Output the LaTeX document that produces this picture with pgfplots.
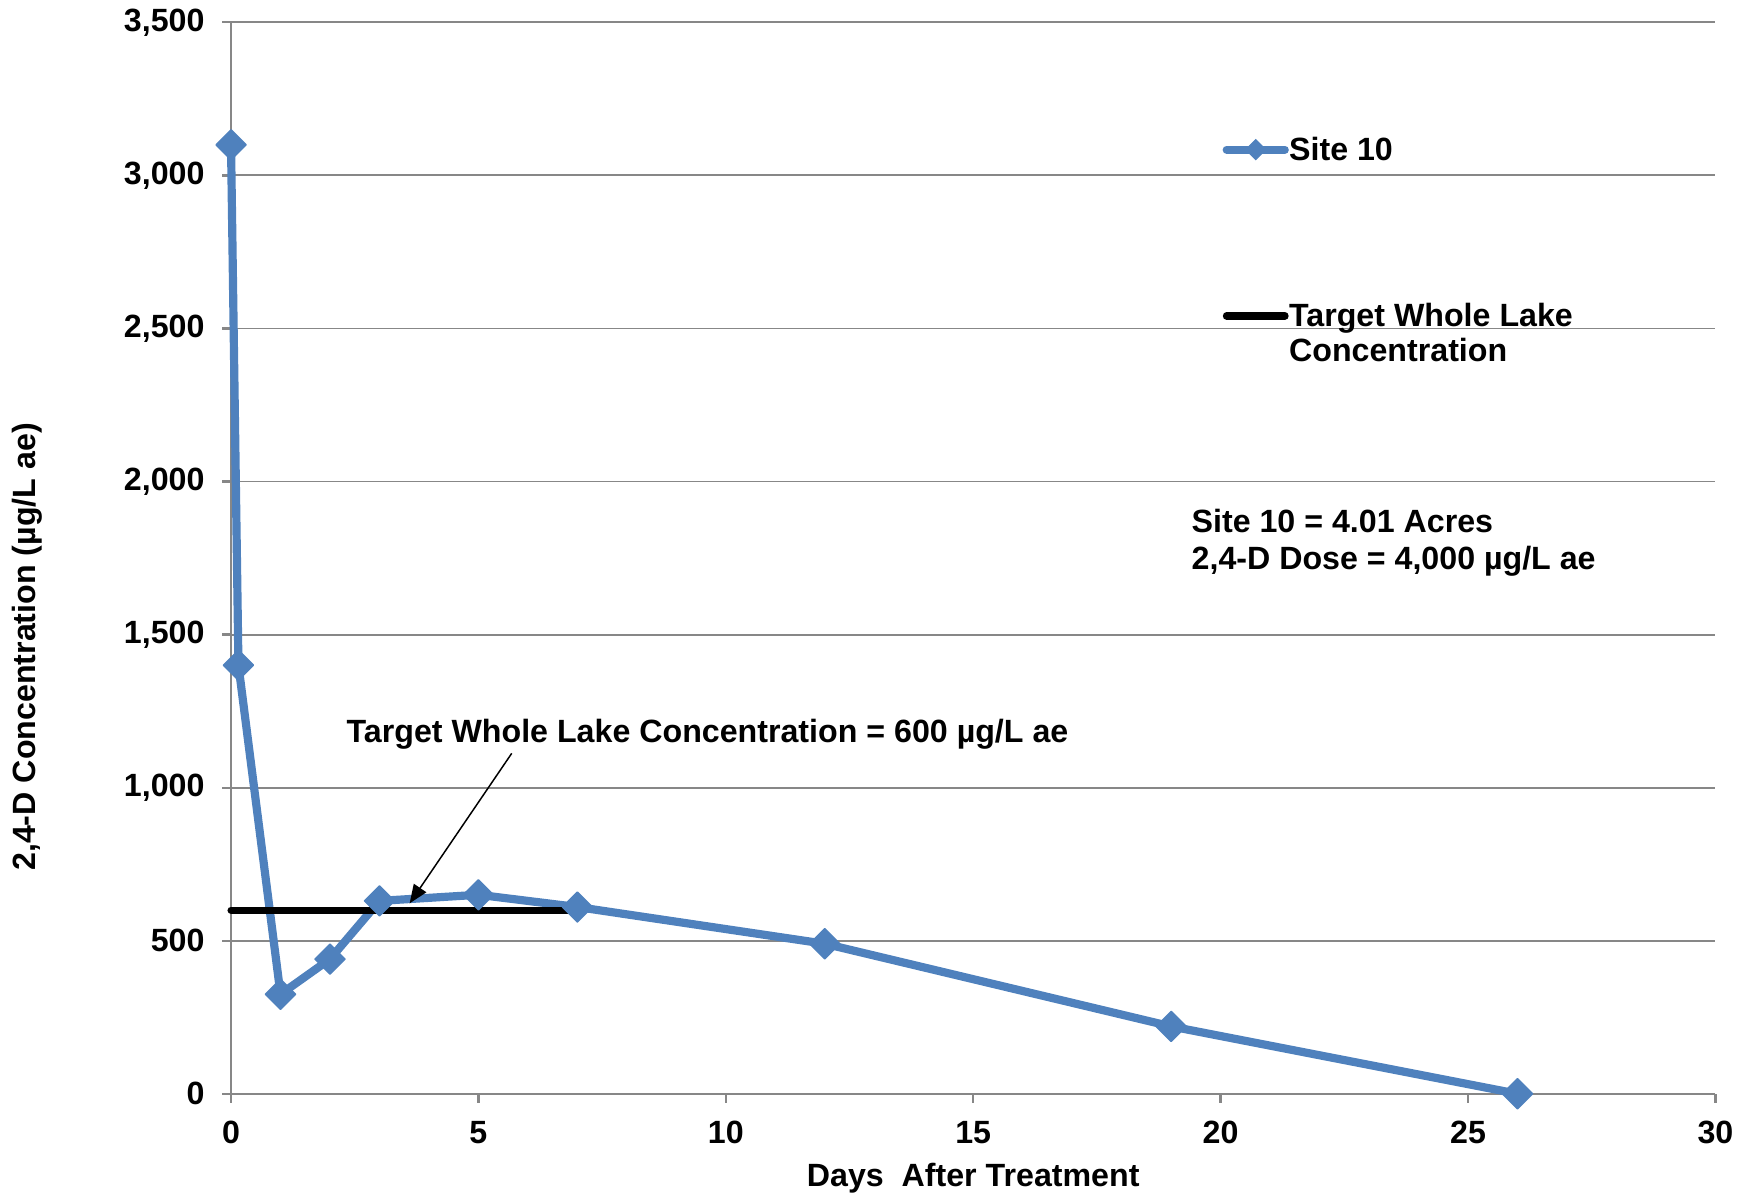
\documentclass[border=0pt]{standalone}
\usepackage{fontspec}
\setmainfont{Liberation Sans}
\usepackage{pgfplots}
\pgfplotsset{compat=1.18}
\usetikzlibrary{arrows.meta}
\definecolor{siteblue}{HTML}{4F81BD}
\definecolor{gridgray}{HTML}{878787}
\begin{document}
\begin{tikzpicture}[font=\fontsize{8.65}{10.4}\selectfont\bfseries]
\useasboundingbox (-62.1pt,-27.6pt) rectangle (408.3pt,294pt);
\begin{axis}[
 at={(0,0)}, anchor=south west,
 scale only axis, width=399pt, height=288pt,
 xmin=0, xmax=30, ymin=0, ymax=3500,
 axis x line*=bottom, axis y line*=left,
 axis line style={gridgray, line width=0.6pt, -},
 every outer x axis line/.append style={-},
 every outer y axis line/.append style={-},
 xtick={0,5,...,30}, ytick={0,500,...,3500},
 tick align=outside, major tick length=2.4pt,
 tick style={gridgray, line width=0.6pt},
 ymajorgrids, grid style={gridgray, line width=0.5pt},
 /pgf/number format/.cd, 1000 sep={,}, assume math mode=true, /pgfplots/.cd,
 ticklabel style={font=\fontsize{8.65}{10.4}\selectfont\bfseries},
 yticklabel style={xshift=-1.2pt},
 xticklabel style={yshift=-1.5pt},
 xlabel={Days\ \ After Treatment}, ylabel={2,4-D Concentration (µg/L ae)},
 xlabel style={at={(axis description cs:0.5,-0.079)}, anchor=center},
 ylabel style={at={(axis description cs:-0.137,0.417)}, anchor=center},
 clip=false,
]
\addplot[siteblue, line width=2.2pt, line join=round, mark=square*, mark size=2.85pt,
  mark options={rotate=45, line width=0.4pt, fill=siteblue, draw=siteblue}]
  coordinates {(0,3100)(0.15,1400)(1,325)(2,440)(3,630)(5,650)(7,610)(12,490)(19,220)(26,0)};
\addplot[black, line width=1.9pt, line cap=round] coordinates {(0,600)(7,600)};
% legend samples
\addplot[siteblue, line width=2.1pt, line cap=round, mark=square*, mark indices={2}, mark size=1.9pt,
  mark options={rotate=45, line width=0.3pt, fill=siteblue, draw=siteblue}]
  coordinates {(20.12,3084)(20.71,3084)(21.3,3084)};
\addplot[black, line width=2pt, line cap=round] coordinates {(20.12,2541)(21.3,2541)};
\node[anchor=base west, inner sep=0pt] at (axis cs:21.37,3048) {Site 10};
\node[anchor=base west, inner sep=0pt] at (axis cs:21.37,2505) {Target Whole Lake};
\node[anchor=base west, inner sep=0pt] at (axis cs:21.37,2392) {Concentration};
\node[anchor=base west, inner sep=0pt] at (axis cs:19.4,1834) {Site 10 = 4.01 Acres};
\node[anchor=base west, inner sep=0pt] at (axis cs:19.4,1714) {2,4-D Dose = 4,000 µg/L ae};
\node[anchor=base west, inner sep=0pt] at (axis cs:2.323,1147) {Target Whole Lake Concentration = 600 µg/L ae};
\draw[-{Triangle[length=5pt,width=4pt]}, line width=0.4pt] (axis cs:5.673,1112) -- (axis cs:3.61,622);
\end{axis}
\end{tikzpicture}
\end{document}
